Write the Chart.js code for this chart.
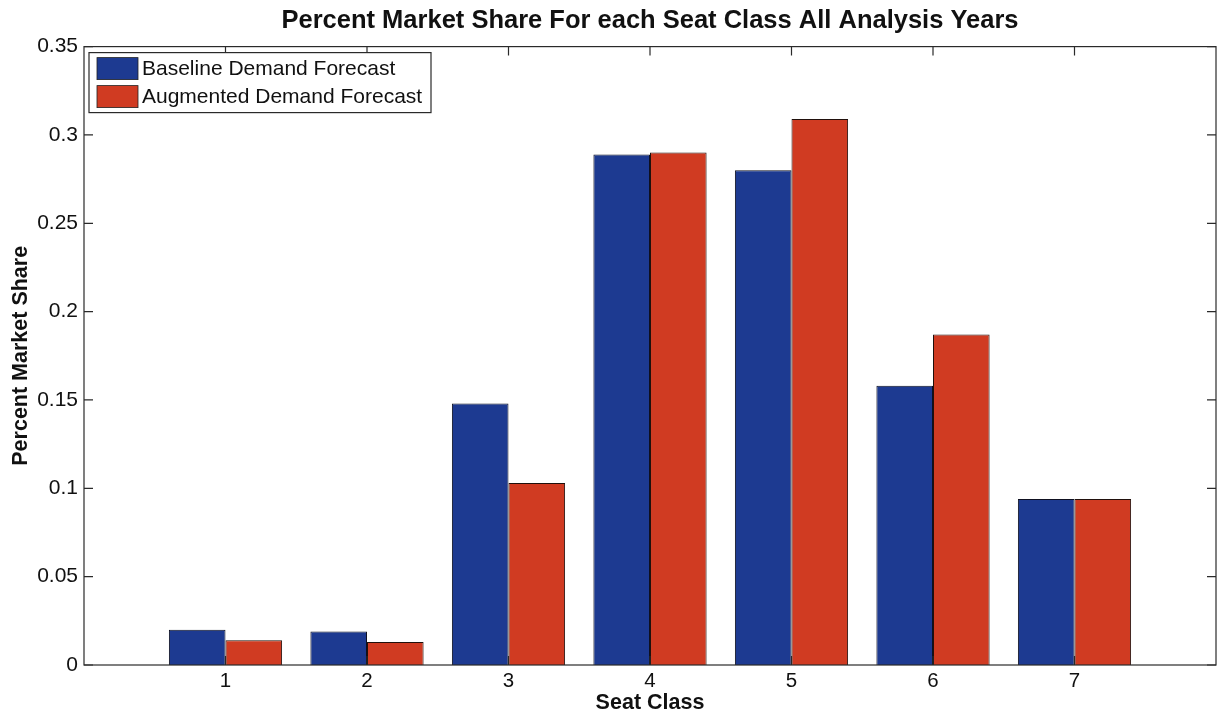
<!DOCTYPE html>
<html>
<head>
<meta charset="utf-8">
<script src="https://cdn.jsdelivr.net/npm/chart.js@4.4.1/dist/chart.umd.min.js"></script>
<style>
    html, body { margin: 0; padding: 0; background: #fff; }
    #wrap { width: 1217px; height: 713px; position: relative; }
</style>
</head>
<body>
<div id="wrap"><canvas id="shareChart"></canvas></div>
<script>
    const seatClasses = [1, 2, 3, 4, 5, 6, 7];
    const baselineShare = [0.020, 0.019, 0.148, 0.289, 0.280, 0.158, 0.094];
    const augmentedShare = [0.014, 0.013, 0.103, 0.290, 0.309, 0.187, 0.094];
    const yTickValues = [0, 0.05, 0.1, 0.15, 0.2, 0.25, 0.3, 0.35];
    const seriesNames = ['Baseline Demand Forecast', 'Augmented Demand Forecast'];

    const FONT = 'Liberation Sans, Arial, Helvetica, sans-serif';
    const AXIS_COLOR = '#2a2a2a';

    // frame around the plot area with matlab-style inward tick marks
    const boxTicks = {
        id: 'boxTicks',
        afterDatasetsDraw(chart) {
            const { ctx, chartArea: a, scales } = chart;
            const len = 9;
            ctx.save();
            ctx.strokeStyle = AXIS_COLOR;
            ctx.lineWidth = 1.2;
            ctx.strokeRect(a.left, a.top, a.right - a.left, a.bottom - a.top);
            ctx.beginPath();
            scales.x.ticks.forEach(t => {
                const px = scales.x.getPixelForValue(t.value);
                ctx.moveTo(px, a.bottom); ctx.lineTo(px, a.bottom - len);
                ctx.moveTo(px, a.top); ctx.lineTo(px, a.top + len);
            });
            scales.y.ticks.forEach(t => {
                const py = scales.y.getPixelForValue(t.value);
                ctx.moveTo(a.left, py); ctx.lineTo(a.left + len, py);
                ctx.moveTo(a.right, py); ctx.lineTo(a.right - len, py);
            });
            ctx.stroke();
            ctx.restore();
        }
    };

    // legend box drawn in the upper left corner of the axes
    const innerLegend = {
        id: 'innerLegend',
        afterDraw(chart) {
            const { ctx, chartArea: a } = chart;
            const x = a.left + 5, y = a.top + 6, w = 342, h = 60;
            ctx.save();
            ctx.fillStyle = '#fff';
            ctx.fillRect(x, y, w, h);
            ctx.strokeStyle = AXIS_COLOR;
            ctx.lineWidth = 1.2;
            ctx.strokeRect(x, y, w, h);
            ctx.font = '21px ' + FONT;
            ctx.textBaseline = 'middle';
            chart.data.datasets.forEach((ds, i) => {
                const rowY = y + 5 + i * 28;
                ctx.fillStyle = ds.backgroundColor;
                ctx.fillRect(x + 8, rowY, 41, 22);
                ctx.strokeStyle = '#222';
                ctx.lineWidth = 0.8;
                ctx.strokeRect(x + 8, rowY, 41, 22);
                ctx.fillStyle = '#111';
                ctx.fillText(ds.label, x + 53, rowY + 12);
            });
            ctx.restore();
        }
    };

    const ctx = document.getElementById('shareChart').getContext('2d');

    const shareChart = new Chart(ctx, {
        type: 'bar',
        data: {
            datasets: [{
                label: seriesNames[0],
                data: seatClasses.map((c, i) => ({ x: c, y: baselineShare[i] })),
                backgroundColor: '#1d3a91',
                borderColor: '#0e1020',
                borderWidth: 1
            }, {
                label: seriesNames[1],
                data: seatClasses.map((c, i) => ({ x: c, y: augmentedShare[i] })),
                backgroundColor: '#d03b22',
                borderColor: '#20100c',
                borderWidth: 1
            }]
        },
        plugins: [boxTicks, innerLegend],
        options: {
            responsive: true,
            maintainAspectRatio: false,
            animation: false,
            layout: { padding: { top: 0, right: 1, bottom: 0, left: 0 } },
            datasets: {
                bar: { categoryPercentage: 0.8, barPercentage: 1.0, grouped: true }
            },
            plugins: {
                legend: { display: false },
                tooltip: { enabled: false },
                title: {
                    display: true,
                    fullSize: false,
                    text: 'Percent Market Share For each Seat Class All Analysis Years',
                    color: '#111',
                    font: { family: FONT, size: 25.5, weight: 'bold' },
                    padding: { top: 6, bottom: 10 }
                }
            },
            scales: {
                x: {
                    type: 'linear',
                    min: 0,
                    max: 8,
                    offset: false,
                    grid: { display: false, drawTicks: false },
                    border: { display: false },
                    afterBuildTicks: scale => {
                        scale.ticks = seatClasses.map(v => ({ value: v }));
                    },
                    afterFit: scale => { scale.height = 48; },
                    ticks: {
                        color: '#111',
                        padding: 4,
                        maxRotation: 0,
                        font: { family: FONT, size: 20.5 },
                        callback: v => String(v)
                    },
                    title: {
                        display: true,
                        text: 'Seat Class',
                        color: '#111',
                        font: { family: FONT, size: 21.5, weight: 'bold' },
                        padding: { top: 0, bottom: -3 }
                    }
                },
                y: {
                    min: 0,
                    max: 0.35,
                    grid: { display: false, drawTicks: false },
                    border: { display: false },
                    afterBuildTicks: scale => {
                        scale.ticks = yTickValues.map(v => ({ value: v }));
                    },
                    afterFit: scale => { scale.width = 84; },
                    ticks: {
                        color: '#111',
                        padding: 6,
                        font: { family: FONT, size: 21 },
                        callback: v => String(+v.toFixed(2))
                    },
                    title: {
                        display: true,
                        text: 'Percent Market Share',
                        color: '#111',
                        font: { family: FONT, size: 21.5, weight: 'bold' },
                        padding: { top: 8, bottom: 0 }
                    }
                }
            }
        }
    });
</script>
</body>
</html>
